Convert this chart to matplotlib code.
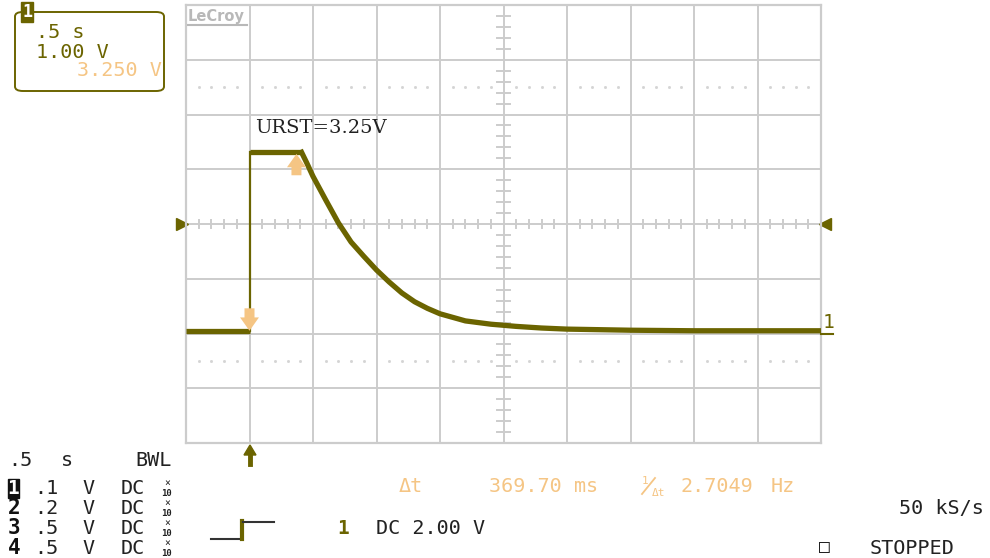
import numpy as np
import matplotlib.pyplot as plt
from matplotlib.patches import FancyBboxPatch

# LeCroy scope screenshot: reset pulse on channel 1
W, H = 990, 558
olive = '#6b6400'
orange = '#f5c584'
gridc = '#cccccc'
ink = '#222222'

# trace values (time in s, volts above ground)
base_t = [0.0, 0.5]
base_v = [0.0, 0.0]
edge_t = [0.5, 0.5]
edge_v = [0.0, 3.27]
high_t = [0.5, 0.7, 0.91]
high_v = [3.27, 3.27, 3.27]
decay_t = [0.91, 0.95, 1.0, 1.1, 1.2, 1.3, 1.4, 1.5, 1.6, 1.7, 1.8, 1.9, 2.0,
           2.2, 2.4, 2.6, 2.8, 3.0, 3.5, 4.0, 4.5, 5.0]
decay_v = [3.27, 3.08, 2.83, 2.40, 1.98, 1.63, 1.37, 1.12, 0.90, 0.70, 0.54, 0.42, 0.32,
           0.19, 0.13, 0.09, 0.06, 0.04, 0.02, 0.01, 0.01, 0.01]
offset = -1.96      # channel offset in divisions
cursor_t = [0.5, 0.8697]
time_div = 0.5
volt_div = 1.0


def fx(x):
    return x / W


def fy(y):
    return 1 - y / H


fig = plt.figure(figsize=(9.9, 5.58), dpi=100)
ax = fig.add_axes([fx(186), fy(443), fx(821) - fx(186), fy(5) - fy(443)])
ax.set_xlim(0, 10 * time_div)
ax.set_ylim(-4, 4)
ax.set_xticks([])
ax.set_yticks([])
for s in ax.spines.values():
    s.set_color(gridc)
    s.set_linewidth(1.6)

# grid
for i in range(1, 10):
    ax.axvline(i * time_div, color=gridc, lw=1.4, zorder=1)
for j in range(-3, 4):
    ax.axhline(j, color=gridc, lw=1.4, zorder=1)
# center minor ticks
for k in range(1, 50):
    if k % 5:
        ax.plot([k * 0.1, k * 0.1], [-0.08, 0.08], color=gridc, lw=1.4, zorder=1)
for k in range(-19, 20):
    if k % 5:
        ax.plot([2.445, 2.555], [k * 0.2, k * 0.2], color=gridc, lw=1.4, zorder=1)
# dotted rows
dots = [k * 0.1 for k in range(1, 50) if k % 5]
ax.plot(dots, [2.5] * len(dots), ls='none', marker='s', ms=1, color='#d4d4d4')
ax.plot(dots, [-2.5] * len(dots), ls='none', marker='s', ms=1, color='#d4d4d4')

# trace
ax.plot(base_t, np.array(base_v) / volt_div + offset, color=olive, lw=3.8, solid_capstyle='butt', zorder=3)
ax.plot(edge_t, np.array(edge_v) / volt_div + offset, color=olive, lw=1.6, zorder=3)
ax.plot(high_t, np.array(high_v) / volt_div + offset, color=olive, lw=3.8, solid_capstyle='butt', zorder=3)
ax.plot(decay_t, np.array(decay_v) / volt_div + offset, color=olive, lw=3.8, zorder=3,
        solid_joinstyle='round')

# cursors
arr = dict(arrowstyle='simple,head_width=0.85,head_length=0.6,tail_width=0.45',
           color=orange, lw=0, shrinkA=0, shrinkB=0, mutation_scale=16)
ax.annotate('', xy=(cursor_t[0], offset + 0.01), xytext=(cursor_t[0], offset + 0.42),
            arrowprops=arr, zorder=4)
ax.annotate('', xy=(cursor_t[1], 3.27 + offset - 0.03), xytext=(cursor_t[1], 3.27 + offset - 0.42),
            arrowprops=arr, zorder=4)

fig.text(fx(255), fy(128), 'URST=3.25V', family='DejaVu Serif', fontsize=14,
         color=ink, va='center', ha='left')

# level markers
ax.plot([-0.006], [0.5], marker='>', ms=8, color=olive, transform=ax.transAxes, clip_on=False)
ax.plot([1.006], [0.5], marker='<', ms=8, color=olive, transform=ax.transAxes, clip_on=False)
fig.add_artist(plt.Line2D([fx(821), fx(833)], [fy(334), fy(334)], color=olive, lw=1.5))
fig.text(fx(823), fy(322), '1', fontsize=14, color=olive, family='DejaVu Sans Mono', va='center')

fig.text(fx(188), fy(16), 'LeCroy', fontsize=10.5, color='#b8b8b8', fontweight='bold',
         family='DejaVu Sans', va='center')
fig.add_artist(plt.Line2D([fx(188), fx(247)], [fy(25), fy(25)], color='#b8b8b8', lw=1.5))

# trigger arrow under grid
fig.add_artist(plt.Line2D([fx(250), fx(250)], [fy(464), fy(452)], color=olive, lw=3.5))
fig.add_artist(plt.Polygon([[fx(244), fy(455)], [fx(256), fy(455)], [fx(250), fy(445)]],
                           closed=True, color=olive))

mono = 'DejaVu Sans Mono'
fs = 14.5
# channel box top-left
box = FancyBboxPatch((fx(15), fy(91)), fx(164) - fx(15), fy(12) - fy(91),
                     boxstyle='round,pad=0,rounding_size=0.008', fc='none', ec=olive, lw=1.4,
                     transform=fig.transFigure)
fig.add_artist(box)
fig.text(fx(27), fy(12), '1', fontsize=12, fontweight='bold', color='white', ha='center', va='center',
         family=mono, bbox=dict(boxstyle='square,pad=0.08', fc=olive, ec=olive))
fig.text(fx(36), fy(32), '.5 s', fontsize=fs, color=olive, family=mono, va='center')
fig.text(fx(36), fy(52), '1.00 V', fontsize=fs, color=olive, family=mono, va='center')
fig.text(fx(162), fy(71), '3.250 V', fontsize=fs, color=orange, family=mono, va='center', ha='right')

# bottom status area
fig.text(fx(8), fy(460), '.5', fontsize=fs, color=ink, family=mono, va='center')
fig.text(fx(61), fy(460), 's', fontsize=fs, color=ink, family=mono, va='center')
fig.text(fx(135), fy(460), 'BWL', fontsize=fs, color=ink, family=mono, va='center')
rows = ['.1', '.2', '.5', '.5']
for i, r in enumerate(rows):
    y = 488 + 20 * i
    if i == 0:
        fig.text(fx(13.5), fy(y), '1', fontsize=14, fontweight='bold', color='white', family=mono,
                 va='center', ha='center',
                 bbox=dict(boxstyle='square,pad=0.0', fc='#111111', ec='#111111'))
    else:
        fig.text(fx(14), fy(y), str(i + 1), fontsize=15, fontweight='bold', color='#111111',
                 family=mono, va='center', ha='center')
    fig.text(fx(34), fy(y), r, fontsize=fs, color=ink, family=mono, va='center')
    fig.text(fx(82), fy(y), 'V', fontsize=fs, color=ink, family=mono, va='center')
    fig.text(fx(121), fy(y), 'DC', fontsize=fs, color=ink, family=mono, va='center')
    fig.text(fx(167), fy(y - 5), '×', fontsize=7, color=ink, family=mono, va='center', ha='center')
    fig.text(fx(167), fy(y + 5), '10', fontsize=6.5, color=ink, family=mono, va='center',
             ha='center', fontweight='bold')

fig.text(fx(399), fy(487), 'Δt', fontsize=fs, color=orange, family=mono, va='center')
fig.text(fx(489), fy(487), '369.70 ms', fontsize=fs, color=orange, family=mono, va='center')
fig.text(fx(642), fy(481), '1', fontsize=8, color=orange, family=mono, va='center')
fig.add_artist(plt.Line2D([fx(642), fx(655)], [fy(494), fy(478)], color=orange, lw=1.3))
fig.text(fx(652), fy(493), 'Δt', fontsize=8, color=orange, family=mono, va='center')
fig.text(fx(680), fy(487), '2.7049', fontsize=fs, color=orange, family=mono, va='center')
fig.text(fx(771), fy(487), 'Hz', fontsize=fs, color=orange, family=mono, va='center')
fig.text(fx(984), fy(509), '50 kS/s', fontsize=fs, color=ink, family=mono, va='center', ha='right')

# trigger icon
fig.add_artist(plt.Line2D([fx(211), fx(241)], [fy(539), fy(539)], color='#333333', lw=1.5))
fig.add_artist(plt.Line2D([fx(242), fx(242)], [fy(539), fy(521)], color=olive, lw=3))
fig.add_artist(plt.Line2D([fx(243), fx(274)], [fy(522), fy(522)], color='#333333', lw=1.5))
fig.text(fx(337), fy(528), '1', fontsize=14, fontweight='bold', color=olive, family=mono, va='center')
fig.text(fx(376), fy(528), 'DC 2.00 V', fontsize=fs, color=ink, family=mono, va='center')
fig.text(fx(819), fy(547), '□', fontsize=13, color=ink, family=mono, va='center')
fig.text(fx(870), fy(548), 'STOPPED', fontsize=fs, color=ink, family=mono, va='center')

fig.savefig('out.png', dpi=100)
